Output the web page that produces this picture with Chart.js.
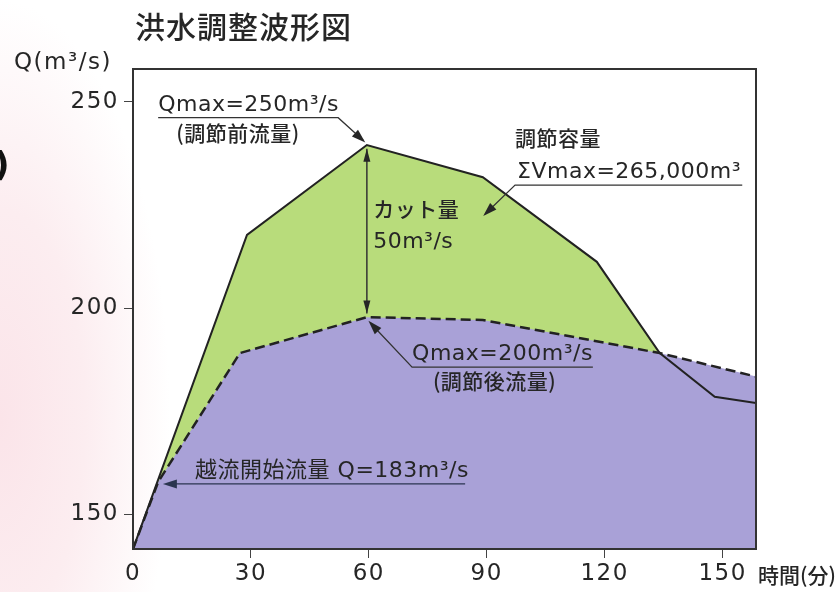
<!DOCTYPE html>
<html>
<head>
<meta charset="utf-8">
<script src="https://cdn.jsdelivr.net/npm/chart.js@4.4.0/dist/chart.umd.min.js"></script>
<style>
  html, body { margin: 0; padding: 0; }
  body {
    width: 840px; height: 592px; overflow: hidden;
    background: radial-gradient(ellipse 170px 420px at 0px 420px, #fbe4e9 0%, #fcedf0 50%, #ffffff 100%);
  }
  canvas { display: block; }
</style>
</head>
<body>
<canvas id="myChart" width="840" height="592"></canvas>
<script>
// 調節前流量 (inflow, solid)
const inflowTime = [0, 29, 59.5, 89, 118, 134, 148, 158.5];
const inflowQ = [141.65, 217.7, 239.5, 231.7, 211.2, 189.1, 178.5, 177.0];

// 調節後流量 (outflow, dashed)
const outflowTime = [0, 6.4, 27.2, 59.5, 89, 134, 158.5];
const outflowQ = [141.65, 157.9, 189.1, 197.8, 197.1, 189.1, 183.4];

const xTicks = [0, 30, 60, 90, 120, 150];
const yTicks = [150, 200, 250];

const FONT_LATIN = '"DejaVu Sans", "Noto Sans CJK JP", sans-serif';
const FONT_JP = '"Noto Sans CJK JP", sans-serif';
const INK = '#262626';

function arrowHead(ctx, x1, y1, x2, y2, len, half) {
    const a = Math.atan2(y2 - y1, x2 - x1);
    const bx = x2 - len * Math.cos(a), by = y2 - len * Math.sin(a);
    ctx.beginPath();
    ctx.moveTo(x2, y2);
    ctx.lineTo(bx + half * Math.sin(a), by - half * Math.cos(a));
    ctx.lineTo(bx - half * Math.sin(a), by + half * Math.cos(a));
    ctx.closePath();
    ctx.fill();
}

function line(ctx, pts) {
    ctx.beginPath();
    ctx.moveTo(pts[0][0], pts[0][1]);
    for (let i = 1; i < pts.length; i++) ctx.lineTo(pts[i][0], pts[i][1]);
    ctx.stroke();
}

const annotate = {
    id: "annotate",
    beforeDraw(chart) {
        chart.ctx.letterSpacing = "1.5px";
    },
    afterDatasetsDraw(chart) {
        const { ctx, chartArea: a } = chart;
        ctx.save();
        ctx.strokeStyle = "#333";
        ctx.lineWidth = 2;
        ctx.strokeRect(a.left, a.top, a.right - a.left, a.bottom - a.top);
        ctx.restore();
    },
    afterDraw(chart) {
        const ctx = chart.ctx;
        const xs = chart.scales.x, ys = chart.scales.y;
        const P = (x, y) => [xs.getPixelForValue(x), ys.getPixelForValue(y)];

        ctx.save();
        ctx.fillStyle = INK;
        ctx.strokeStyle = "#333";

        // title + axis titles
        ctx.letterSpacing = "1px";
        ctx.textBaseline = "middle";
        ctx.textAlign = "left";
        ctx.font = "500 30px " + FONT_JP;
        ctx.fillText("洪水調整波形図", 135, 27);
        ctx.letterSpacing = "1.5px";
        ctx.font = "23px " + FONT_LATIN;
        ctx.fillText("Q(m³/s)", 14, 63);
        ctx.letterSpacing = "0px";
        ctx.font = "500 21px " + FONT_JP;
        ctx.fillText("時間(分)", 758, 575);
        ctx.fillStyle = "#111";
        ctx.font = "bold 34px " + FONT_LATIN;
        ctx.fillText(")", -6, 167);
        ctx.fillStyle = INK;

        // Qmax=250 (調節前流量)
        ctx.letterSpacing = "0.5px";
        ctx.textBaseline = "alphabetic";
        ctx.font = "22px " + FONT_LATIN;
        let p = P(6.4, 247.7);
        ctx.fillText("Qmax=250m³/s", p[0], p[1]);
        ctx.lineWidth = 1.3;
        line(ctx, [P(6.4, 246.1), P(52.2, 246.1), P(58.6, 240.6)]);
        arrowHead(ctx, ...P(52.2, 246.1), ...P(59.1, 240.1), 14, 4.5);
        ctx.textBaseline = "middle";
        ctx.textAlign = "center";
        ctx.font = "500 21px " + FONT_JP;
        p = P(26.7, 242.4);
        ctx.fillText("(調節前流量)", p[0], p[1]);

        // カット量
        ctx.lineWidth = 1.5;
        const c1 = P(59.5, 238.6), c2 = P(59.5, 198.7);
        line(ctx, [c1, c2]);
        arrowHead(ctx, c2[0], c2[1], c1[0], c1[1], 13, 3.5);
        arrowHead(ctx, c1[0], c1[1], c2[0], c2[1], 13, 3.5);
        ctx.textAlign = "left";
        ctx.font = "500 21px " + FONT_JP;
        p = P(61.1, 224.0);
        ctx.fillText("カット量", p[0], p[1]);
        ctx.textBaseline = "alphabetic";
        ctx.font = "22px " + FONT_LATIN;
        p = P(61.1, 214.5);
        ctx.fillText("50m³/s", p[0], p[1]);

        // 調節容量
        ctx.textBaseline = "middle";
        ctx.font = "500 21px " + FONT_JP;
        p = P(97.2, 241.2);
        ctx.fillText("調節容量", p[0], p[1]);
        ctx.textBaseline = "alphabetic";
        ctx.font = "22px " + FONT_LATIN;
        p = P(97.7, 231.5);
        ctx.fillText("ΣVmax=265,000m³", p[0], p[1]);
        ctx.lineWidth = 1.3;
        line(ctx, [P(155.0, 229.8), P(97.2, 229.8), P(89.6, 222.8)]);
        arrowHead(ctx, ...P(97.2, 229.8), ...P(89.1, 222.3), 14, 4.5);

        // Qmax=200 (調節後流量)
        p = P(71.0, 187.4);
        ctx.fillText("Qmax=200m³/s", p[0], p[1]);
        line(ctx, [P(117.0, 185.7), P(71.0, 185.7), P(60.4, 196.4)]);
        arrowHead(ctx, ...P(71.0, 185.7), ...P(59.9, 196.9), 14, 4.5);
        ctx.textBaseline = "middle";
        ctx.textAlign = "center";
        ctx.font = "500 21px " + FONT_JP;
        p = P(92.0, 182.3);
        ctx.fillText("(調節後流量)", p[0], p[1]);

        // 越流開始流量
        ctx.textAlign = "left";
        ctx.textBaseline = "alphabetic";
        ctx.font = "22px " + FONT_LATIN;
        p = P(15.8, 159.1);
        ctx.fillText("越流開始流量 Q=183m³/s", p[0], p[1]);
        ctx.strokeStyle = "#2b3550";
        ctx.fillStyle = "#2b3550";
        line(ctx, [P(84.5, 157.4), P(8.5, 157.4)]);
        arrowHead(ctx, ...P(84.5, 157.4), ...P(7.6, 157.4), 14, 4.5);

        ctx.restore();
        ctx.letterSpacing = "0px";
    },
};

const ctx = document.getElementById("myChart");
const noZeroTick = (c) => (c.tick && c.tick.value === 0 ? "rgba(0,0,0,0)" : "#444");

new Chart(ctx, {
    type: "line",
    data: {
        datasets: [
            {
                label: "調節後流量",
                data: outflowTime.map((t, i) => ({ x: t, y: outflowQ[i] })),
                borderColor: "#222",
                borderWidth: 2.5,
                borderDash: [10, 5],
                backgroundColor: "#a9a1d7",
                fill: "start",
                pointRadius: 0,
                tension: 0,
            },
            {
                label: "調節前流量",
                data: inflowTime.map((t, i) => ({ x: t, y: inflowQ[i] })),
                borderColor: "#222",
                borderWidth: 2,
                backgroundColor: "#b8dc7b",
                fill: "start",
                pointRadius: 0,
                tension: 0,
            },
        ],
    },
    options: {
        responsive: false,
        animation: false,
        layout: { padding: { top: 69, right: 84, left: 0, bottom: 0 } },
        plugins: {
            legend: { display: false },
            tooltip: { enabled: false },
            filler: { drawTime: "beforeDatasetsDraw" },
        },
        scales: {
            x: {
                type: "linear",
                min: 0,
                max: 158.5,
                afterBuildTicks: (s) => { s.ticks = xTicks.map((v) => ({ value: v })); },
                afterFit: (s) => { s.height = 43; },
                ticks: {
                    color: INK,
                    font: { family: FONT_LATIN, size: 23 },
                    padding: 2,
                    maxRotation: 0,
                },
                grid: { drawOnChartArea: false, tickLength: 9, color: noZeroTick },
                border: { color: "#333", width: 2 },
            },
            y: {
                min: 141.65,
                max: 257.9,
                afterBuildTicks: (s) => { s.ticks = yTicks.map((v) => ({ value: v })); },
                afterFit: (s) => { s.width = 133; },
                ticks: {
                    color: INK,
                    font: { family: FONT_LATIN, size: 23 },
                    padding: 5,
                },
                grid: { drawOnChartArea: false, tickLength: 9, color: "#444" },
                border: { color: "#333", width: 2 },
            },
        },
    },
    plugins: [annotate],
});
</script>
</body>
</html>
